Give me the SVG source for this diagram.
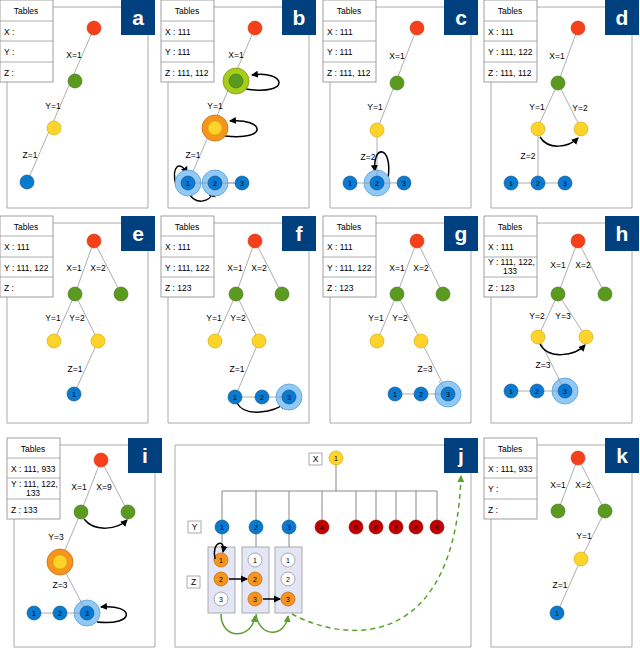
<svg xmlns="http://www.w3.org/2000/svg" width="640" height="648" viewBox="0 0 640 648">
<defs>
<marker id="ah" markerWidth="8" markerHeight="8" refX="6" refY="4" orient="auto" markerUnits="userSpaceOnUse"><path d="M0,0.5 L7,4 L0,7.5 Z" fill="#000"/></marker>
<marker id="gh" markerWidth="8" markerHeight="8" refX="6" refY="4" orient="auto" markerUnits="userSpaceOnUse"><path d="M0,0.5 L7,4 L0,7.5 Z" fill="#5aa02c"/></marker>
</defs>
<style>
text{font-family:"Liberation Sans",Arial,sans-serif;font-size:8.5px;fill:#000}
.t{fill:#fff;stroke:#888;stroke-width:0.8}
.fr{fill:none;stroke:#aaa;stroke-width:1}
.lb{fill:#00407f}
.lt{fill:#fff;font-size:21px;font-weight:bold;text-anchor:middle}
.e{stroke:#999;stroke-width:0.8;fill:none}
.r{fill:#f5401a;stroke:#c9361a;stroke-width:0.6}
.g{fill:#5a9a1e;stroke:#3f7412;stroke-width:0.6}
.y{fill:#ffd42a;stroke:#c9a400;stroke-width:0.6}
.b{fill:#0a7ad0;stroke:#064f8a;stroke-width:0.6}
.lbb{fill:#90c8f8;stroke:#5a9fd6;stroke-width:0.8}
.lg{fill:#a8cc1c;stroke:#7f9c10;stroke-width:0.8}
.or{fill:#f7941d;stroke:#c87010;stroke-width:0.8}
.dr{fill:#c00000;stroke:#800;stroke-width:0.6}
.wz{fill:#fff;stroke:#888;stroke-width:0.7}
.n{font-size:7px;text-anchor:middle}
.a{fill:none;stroke:#000;stroke-width:1.5;marker-end:url(#ah)}
.ga{fill:none;stroke:#5aa02c;stroke-width:1.5;marker-end:url(#gh)}
.c{text-anchor:middle}
</style>

<!-- frames, tables, labels -->
<g id="panel-a-frame">
<path class="fr" d="M53,7 H121 M7,82 V208 H148 V35"/>
<rect class="t" x="0" y="0" width="53" height="82"/><path class="e" d="M0,21 H53 M0,41 H53 M0,62 H53"/>
<text x="26" y="14" class="c">Tables</text><text x="4" y="35">X :</text><text x="4" y="55">Y :</text><text x="4" y="76">Z :</text>
<rect class="lb" x="121" y="0" width="34" height="35"/><text class="lt" x="138" y="25">a</text>
</g>
<g id="panel-b-frame">
<path class="fr" d="M214,7 H282 M168,82 V208 H309 V35"/>
<rect class="t" x="161" y="0" width="53" height="82"/><path class="e" d="M161,21 H214 M161,41 H214 M161,62 H214"/>
<text x="187" y="14" class="c">Tables</text><text x="165" y="35">X : 111</text><text x="165" y="55">Y : 111</text><text x="165" y="76">Z : 111, 112</text>
<rect class="lb" x="282" y="0" width="34" height="35"/><text class="lt" x="299" y="25">b</text>
</g>
<g id="panel-c-frame">
<path class="fr" d="M376,7 H444 M330,82 V208 H471 V35"/>
<rect class="t" x="323" y="0" width="53" height="82"/><path class="e" d="M323,21 H376 M323,41 H376 M323,62 H376"/>
<text x="349" y="14" class="c">Tables</text><text x="327" y="35">X : 111</text><text x="327" y="55">Y : 111</text><text x="327" y="76">Z : 111, 112</text>
<rect class="lb" x="444" y="0" width="34" height="35"/><text class="lt" x="461" y="25">c</text>
</g>
<g id="panel-d-frame">
<path class="fr" d="M537,7 H605 M491,82 V208 H632 V35"/>
<rect class="t" x="484" y="0" width="53" height="82"/><path class="e" d="M484,21 H537 M484,41 H537 M484,62 H537"/>
<text x="510" y="14" class="c">Tables</text><text x="488" y="35">X : 111</text><text x="488" y="55">Y : 111, 122</text><text x="488" y="76">Z : 111, 112</text>
<rect class="lb" x="605" y="0" width="34" height="35"/><text class="lt" x="622" y="25">d</text>
</g>
<g id="panel-e-frame">
<path class="fr" d="M53,223 H121 M7,297 V423 H148 V251"/>
<rect class="t" x="0" y="216" width="53" height="81"/><path class="e" d="M0,236 H53 M0,257 H53 M0,277 H53"/>
<text x="26" y="230" class="c">Tables</text><text x="4" y="250">X : 111</text><text x="4" y="271">Y : 111, 122</text><text x="4" y="291">Z :</text>
<rect class="lb" x="121" y="216" width="34" height="35"/><text class="lt" x="138" y="241">e</text>
</g>
<g id="panel-f-frame">
<path class="fr" d="M214,223 H282 M168,297 V423 H309 V251"/>
<rect class="t" x="161" y="216" width="53" height="81"/><path class="e" d="M161,236 H214 M161,257 H214 M161,277 H214"/>
<text x="187" y="230" class="c">Tables</text><text x="165" y="250">X : 111</text><text x="165" y="271">Y : 111, 122</text><text x="165" y="291">Z : 123</text>
<rect class="lb" x="282" y="216" width="34" height="35"/><text class="lt" x="299" y="241">f</text>
</g>
<g id="panel-g-frame">
<path class="fr" d="M376,223 H444 M330,297 V423 H471 V251"/>
<rect class="t" x="323" y="216" width="53" height="81"/><path class="e" d="M323,236 H376 M323,257 H376 M323,277 H376"/>
<text x="349" y="230" class="c">Tables</text><text x="327" y="250">X : 111</text><text x="327" y="271">Y : 111, 122</text><text x="327" y="291">Z : 123</text>
<rect class="lb" x="444" y="216" width="34" height="35"/><text class="lt" x="461" y="241">g</text>
</g>
<g id="panel-h-frame">
<path class="fr" d="M537,223 H605 M491,297 V423 H632 V251"/>
<rect class="t" x="484" y="216" width="53" height="81"/><path class="e" d="M484,236 H537 M484,257 H537 M484,277 H537"/>
<text x="510" y="230" class="c">Tables</text><text x="488" y="250">X : 111</text><text x="488" y="265">Y : 111, 122,</text><text x="510" y="274" class="c">133</text><text x="488" y="291">Z : 123</text>
<rect class="lb" x="605" y="216" width="34" height="35"/><text class="lt" x="622" y="241">h</text>
</g>
<g id="panel-i-frame">
<path class="fr" d="M60,445 H128 M14,519 V647 H155 V472"/>
<rect class="t" x="7" y="438" width="53" height="81"/><path class="e" d="M7,458 H60 M7,478 H60 M7,499 H60"/>
<text x="33" y="452" class="c">Tables</text><text x="11" y="472">X : 111, 933</text><text x="11" y="487">Y : 111, 122,</text><text x="33" y="496" class="c">133</text><text x="11" y="513">Z : 133</text>
<rect class="lb" x="128" y="438" width="34" height="35"/><text class="lt" x="145" y="463">i</text>
</g>
<g id="panel-k-frame">
<path class="fr" d="M537,445 H605 M491,519 V647 H632 V472"/>
<rect class="t" x="484" y="438" width="53" height="81"/><path class="e" d="M484,458 H537 M484,478 H537 M484,499 H537"/>
<text x="510" y="452" class="c">Tables</text><text x="488" y="472">X : 111, 933</text><text x="488" y="492">Y :</text><text x="488" y="513">Z :</text>
<rect class="lb" x="605" y="438" width="34" height="35"/><text class="lt" x="622" y="463">k</text>
</g>
<g id="panel-j-frame">
<path class="fr" d="M444,445 H175 V647 H471 V472"/>
<rect class="lb" x="444" y="438" width="34" height="35"/><text class="lt" x="461" y="463">j</text>
</g>

<!-- edges -->
<g id="connectors">
<path class="e" d="M94,28 L27,182"/>
<path class="e" d="M255,28 L188,183 M188,183 H242"/>
<path class="e" d="M417,28 L377,130 V183 M350,183 H404"/>
<path class="e" d="M578,28 L558,83 L537,129 M558,83 L581,129 M538,129 V183 M511,183 H565"/>
<path class="e" d="M94,241 L75,294 L54,341 M94,241 L121,294 M75,294 L98,341 L74,394"/>
<path class="e" d="M255,241 L236,294 L215,341 M255,241 L282,294 M236,294 L259,341 L235,397 H289"/>
<path class="e" d="M417,241 L397,294 L377,341 M417,241 L443,294 M397,294 L421,341 L448,394 M395,394 H448"/>
<path class="e" d="M578,241 L558,294 L538,337 M578,241 L605,294 M558,294 L586,337 M538,337 L565,391 M511,391 H565"/>
<path class="e" d="M101,460 L81,512 L60,562 L87,613 M101,460 L128,512 M34,613 H87"/>
<path class="e" d="M578,458 L558,511 M578,458 L605,511 L581,559 L557,613"/>
<path d="M336,458 V491 M222,491 H437 M222,491 V527 M256,491 V527 M289,491 V527 M322,491 V527 M356,491 V527 M376,491 V527 M396,491 V527 M416,491 V527 M437,491 V527 M222,527 V547 M256,527 V547 M289,527 V547" stroke="#888" stroke-width="1" fill="none"/>
<path class="a" d="M246,89 C292,96 286,70 252,75"/>
<path class="a" d="M225,136 C270,141 264,118 230,121"/>
<path class="a" d="M176,185 C171,166 180,160 187,173"/>
<path class="a" d="M188,191 C194,206 210,203 214,191"/>
<path class="a" d="M388,178 C393,145 372,144 375,171"/>
<path class="a" d="M540,137 C548,150 568,148 578,138"/>
<path class="a" d="M237,403 C245,418 275,412 285,403"/>
<path class="a" d="M540,344 C548,360 575,356 585,345"/>
<path class="a" d="M84,519 C95,533 118,529 127,520"/>
<path class="a" d="M97,622 C136,626 135,604 101,607"/>
<path class="a" d="M583,458 L583,458"/>
</g>

<!-- nodes -->
<g id="nodes-a">
<circle class="r" cx="94" cy="28" r="7"/><circle class="g" cx="75" cy="81" r="7"/><circle class="y" cx="54" cy="128" r="7"/><circle class="b" cx="27" cy="182" r="7"/>
<text x="74" y="58" class="c">X=1</text><text x="53" y="109" class="c">Y=1</text><text x="30" y="158" class="c">Z=1</text>
</g>
<g id="nodes-b">
<circle class="r" cx="255" cy="28" r="7"/>
<circle class="lg" cx="236" cy="81" r="13"/><circle class="g" cx="236" cy="81" r="7"/>
<circle class="or" cx="215" cy="128" r="13"/><circle class="y" cx="215" cy="128" r="7"/>
<circle class="lbb" cx="188" cy="183" r="13"/><circle class="lbb" cx="215" cy="183" r="13"/>
<path class="e" d="M188,183 H242"/>
<circle class="b" cx="188" cy="183" r="7"/><circle class="b" cx="215" cy="183" r="7"/><circle class="b" cx="242" cy="183" r="7"/>
<text class="n" x="188" y="186">1</text><text class="n" x="215" y="186">2</text><text class="n" x="242" y="186">3</text>
<text x="236" y="58" class="c">X=1</text><text x="215" y="109" class="c">Y=1</text><text x="193" y="158" class="c">Z=1</text>
</g>
<g id="nodes-c">
<circle class="r" cx="417" cy="28" r="7"/><circle class="g" cx="397" cy="83" r="7"/><circle class="y" cx="377" cy="130" r="7"/>
<circle class="lbb" cx="377" cy="183" r="13"/><path class="e" d="M364,183 H390 M377,170 V183"/>
<circle class="b" cx="350" cy="183" r="7"/><circle class="b" cx="377" cy="183" r="7"/><circle class="b" cx="404" cy="183" r="7"/>
<text class="n" x="350" y="186">1</text><text class="n" x="377" y="186">2</text><text class="n" x="404" y="186">3</text>
<text x="397" y="59" class="c">X=1</text><text x="375" y="110" class="c">Y=1</text><text x="368" y="160" class="c">Z=2</text>
</g>
<g id="nodes-d">
<circle class="r" cx="578" cy="28" r="7"/><circle class="g" cx="558" cy="83" r="7"/><circle class="y" cx="538" cy="129" r="7"/><circle class="y" cx="581" cy="129" r="7"/>
<circle class="b" cx="511" cy="183" r="7"/><circle class="b" cx="538" cy="183" r="7"/><circle class="b" cx="565" cy="183" r="7"/>
<text class="n" x="511" y="186">1</text><text class="n" x="538" y="186">2</text><text class="n" x="565" y="186">3</text>
<text x="557" y="59" class="c">X=1</text><text x="537" y="110" class="c">Y=1</text><text x="580" y="111" class="c">Y=2</text><text x="528" y="159" class="c">Z=2</text>
</g>
<g id="nodes-e">
<circle class="r" cx="94" cy="241" r="7"/><circle class="g" cx="75" cy="294" r="7"/><circle class="g" cx="121" cy="294" r="7"/>
<circle class="y" cx="54" cy="341" r="7"/><circle class="y" cx="98" cy="341" r="7"/><circle class="b" cx="74" cy="394" r="7"/>
<text class="n" x="74" y="397">1</text>
<text x="74" y="271" class="c">X=1</text><text x="98" y="271" class="c">X=2</text><text x="53" y="321" class="c">Y=1</text><text x="77" y="321" class="c">Y=2</text><text x="75" y="372" class="c">Z=1</text>
</g>
<g id="nodes-f">
<circle class="r" cx="255" cy="241" r="7"/><circle class="g" cx="236" cy="294" r="7"/><circle class="g" cx="282" cy="294" r="7"/>
<circle class="y" cx="215" cy="341" r="7"/><circle class="y" cx="259" cy="341" r="7"/>
<circle class="lbb" cx="289" cy="397" r="13"/><path class="e" d="M276,397 H289"/>
<circle class="b" cx="235" cy="397" r="7"/><circle class="b" cx="262" cy="397" r="7"/><circle class="b" cx="289" cy="397" r="7"/>
<text class="n" x="235" y="400">1</text><text class="n" x="262" y="400">2</text><text class="n" x="289" y="400">3</text>
<text x="235" y="271" class="c">X=1</text><text x="259" y="271" class="c">X=2</text><text x="214" y="321" class="c">Y=1</text><text x="238" y="321" class="c">Y=2</text><text x="237" y="372" class="c">Z=1</text>
</g>
<g id="nodes-g">
<circle class="r" cx="417" cy="241" r="7"/><circle class="g" cx="397" cy="294" r="7"/><circle class="g" cx="443" cy="294" r="7"/>
<circle class="y" cx="377" cy="341" r="7"/><circle class="y" cx="421" cy="341" r="7"/>
<circle class="lbb" cx="448" cy="394" r="13"/><path class="e" d="M435,394 H448 M439,381 L448,394"/>
<circle class="b" cx="395" cy="394" r="7"/><circle class="b" cx="421" cy="394" r="7"/><circle class="b" cx="448" cy="394" r="7"/>
<text class="n" x="395" y="397">1</text><text class="n" x="421" y="397">2</text><text class="n" x="448" y="397">3</text>
<text x="397" y="271" class="c">X=1</text><text x="421" y="271" class="c">X=2</text><text x="376" y="321" class="c">Y=1</text><text x="400" y="321" class="c">Y=2</text><text x="425" y="372" class="c">Z=3</text>
</g>
<g id="nodes-h">
<circle class="r" cx="578" cy="241" r="7"/><circle class="g" cx="558" cy="294" r="7"/><circle class="g" cx="605" cy="294" r="7"/>
<circle class="y" cx="538" cy="337" r="7"/><circle class="y" cx="586" cy="337" r="7"/>
<circle class="lbb" cx="565" cy="391" r="13"/><path class="e" d="M552,391 H565 M558,378 L565,391"/>
<circle class="b" cx="511" cy="391" r="7"/><circle class="b" cx="537" cy="391" r="7"/><circle class="b" cx="565" cy="391" r="7"/>
<text class="n" x="511" y="394">1</text><text class="n" x="537" y="394">2</text><text class="n" x="565" y="394">3</text>
<text x="558" y="268" class="c">X=1</text><text x="583" y="268" class="c">X=2</text><text x="537" y="319" class="c">Y=2</text><text x="563" y="319" class="c">Y=3</text><text x="543" y="368" class="c">Z=3</text>
</g>
<g id="nodes-i">
<circle class="r" cx="101" cy="460" r="7"/><circle class="g" cx="81" cy="512" r="7"/><circle class="g" cx="128" cy="512" r="7"/>
<circle class="or" cx="60" cy="562" r="13"/><circle class="y" cx="60" cy="562" r="7"/>
<circle class="lbb" cx="87" cy="613" r="13"/><path class="e" d="M74,613 H87 M80,600 L87,613"/>
<circle class="b" cx="34" cy="613" r="7"/><circle class="b" cx="60" cy="613" r="7"/><circle class="b" cx="87" cy="613" r="7"/>
<text class="n" x="34" y="616">1</text><text class="n" x="60" y="616">2</text><text class="n" x="87" y="616">3</text>
<text x="79" y="490" class="c">X=1</text><text x="104" y="490" class="c">X=9</text><text x="56" y="540" class="c">Y=3</text><text x="60" y="588" class="c">Z=3</text>
</g>
<g id="nodes-k">
<circle class="r" cx="578" cy="458" r="7"/><circle class="g" cx="558" cy="511" r="7"/><circle class="g" cx="605" cy="511" r="7"/>
<circle class="y" cx="581" cy="559" r="7"/><circle class="b" cx="557" cy="613" r="7"/>
<text class="n" x="557" y="616">1</text>
<text x="558" y="488" class="c">X=1</text><text x="583" y="488" class="c">X=2</text><text x="584" y="539" class="c">Y=1</text><text x="560" y="588" class="c">Z=1</text>
</g>
<g id="nodes-j">
<rect x="309" y="453" width="13" height="12" fill="#fff" stroke="#888" stroke-width="0.7"/><text x="315.5" y="462" class="c">X</text>
<rect x="188" y="521" width="13" height="12" fill="#fff" stroke="#888" stroke-width="0.7"/><text x="194.5" y="530" class="c">Y</text>
<rect x="187" y="576" width="13" height="12" fill="#fff" stroke="#888" stroke-width="0.7"/><text x="193.5" y="585" class="c">Z</text>
<circle class="y" cx="336" cy="458" r="7"/><text class="n" x="336" y="461">1</text>
<circle class="b" cx="222" cy="527" r="7"/><circle class="b" cx="256" cy="527" r="7"/><circle class="b" cx="289" cy="527" r="7"/>
<circle class="dr" cx="322" cy="527" r="7"/><circle class="dr" cx="356" cy="527" r="7"/><circle class="dr" cx="376" cy="527" r="7"/><circle class="dr" cx="396" cy="527" r="7"/><circle class="dr" cx="416" cy="527" r="7"/><circle class="dr" cx="437" cy="527" r="7"/>
<text class="n" x="222" y="530">1</text><text class="n" x="256" y="530">2</text><text class="n" x="289" y="530">3</text><text class="n" x="322" y="530">4</text><text class="n" x="356" y="530">5</text><text class="n" x="376" y="530">6</text><text class="n" x="396" y="530">7</text><text class="n" x="416" y="530">8</text><text class="n" x="437" y="530">9</text>
<rect x="208" y="547" width="27" height="66" fill="#e4e6f6" stroke="#999" stroke-width="0.8"/>
<rect x="242" y="547" width="27" height="66" fill="#e4e6f6" stroke="#999" stroke-width="0.8"/>
<rect x="275" y="547" width="27" height="66" fill="#e4e6f6" stroke="#999" stroke-width="0.8"/>
<circle class="or" cx="221" cy="560" r="7"/><circle class="or" cx="221" cy="579" r="7"/><circle class="wz" cx="221" cy="599" r="7"/>
<circle class="wz" cx="255" cy="560" r="7"/><circle class="or" cx="255" cy="579" r="7"/><circle class="or" cx="255" cy="599" r="7"/>
<circle class="wz" cx="288" cy="560" r="7"/><circle class="wz" cx="288" cy="579" r="7"/><circle class="or" cx="288" cy="599" r="7"/>
<text class="n" x="221" y="563">1</text><text class="n" x="221" y="582">2</text><text class="n" x="221" y="602">3</text>
<text class="n" x="255" y="563">1</text><text class="n" x="255" y="582">2</text><text class="n" x="255" y="602">3</text>
<text class="n" x="288" y="563">1</text><text class="n" x="288" y="582">2</text><text class="n" x="288" y="602">3</text>
</g>
<g id="connectors-j">
<path class="a" d="M215,559 C211,541 226,538 223,552"/>
<path class="a" d="M229,579 L247,579"/>
<path class="a" d="M263,599 L280,599"/>
<path class="ga" d="M221,614 C221,640 252,640 255,616"/>
<path class="ga" d="M256,614 C259,638 285,638 288,616"/>
<path class="ga" d="M292,614 C350,645 455,648 461,476" stroke-dasharray="5,4"/>
</g>
</svg>
